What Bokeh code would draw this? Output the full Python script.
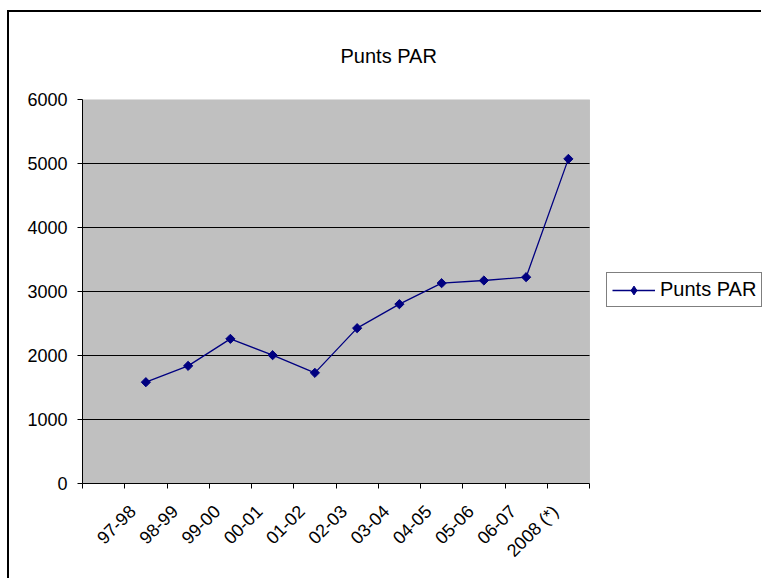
import numpy as np
from bokeh.plotting import figure
from bokeh.models import FixedTicker, Legend, LegendItem, Range1d, BoxAnnotation
from bokeh.embed import file_html
from bokeh.resources import INLINE

# ---- data ----
title_text = "Punts PAR"
series_name = "Punts PAR"
categories = ["", "97-98", "98-99", "99-00", "00-01", "01-02", "02-03",
              "03-04", "04-05", "05-06", "06-07", "2008 (*)"]
point_categories = categories[1:]
values = [1583, 1838, 2260, 2005, 1729, 2427, 2802, 3130, 3172, 3224, 5072]
y_ticks = [0, 1000, 2000, 3000, 4000, 5000, 6000]
grid_ticks = [1000, 2000, 3000, 4000, 5000]

FONT = "Liberation Sans"
NAVY = "#000080"

# ---- layout (pixels) ----
W, H = 754, 568
BL, BR, BT, BB = 73, 0, 87, 97
PLOT_PX = 507            # width of the grey plot area
frame_px = W - BL - BR

n = len(categories)
label_pos = [i + 0.19 for i in range(n)]   # Excel-like label anchor
boundaries = list(range(n + 1))
x_pos = [categories.index(c) + 0.5 for c in point_categories]
x_end = n * frame_px / PLOT_PX   # frame extends right to hold the legend

p = figure(width=W, height=H, output_backend="svg", toolbar_location=None,
           x_range=Range1d(0, x_end), y_range=Range1d(y_ticks[0], y_ticks[-1]),
           min_border_left=BL, min_border_right=BR, min_border_top=BT,
           min_border_bottom=BB,
           background_fill_color="white", border_fill_color="white",
           styles={"border-left": "2px solid black", "border-top": "2px solid black",
                   "margin-left": "7px", "margin-top": "10px"})
p.outline_line_color = None

xa = p.below[0]
ya = p.left[0]

# grey plot area with grey border
p.add_layout(BoxAnnotation(left=0, right=n, bottom=y_ticks[0], top=y_ticks[-1],
                           fill_color="#C0C0C0", fill_alpha=1,
                           line_color="#808080", line_width=1, level="image"))

# title
p.title.text = title_text
p.title.align = "left"
p.title.offset = 258
p.title.vertical_align = "top"
p.title.standoff = 62
p.title.text_font = FONT
p.title.text_font_size = "20px"
p.title.text_font_style = "normal"
p.title.text_color = "black"

# x axis: labels near category centres, tick marks at boundaries (minor ticks)
xa.bounds = (0, n)
xa.ticker = FixedTicker(ticks=label_pos, minor_ticks=boundaries)
xa.major_label_overrides = {c: lab for c, lab in zip(label_pos, categories)}
xa.major_label_orientation = np.pi / 4
xa.major_tick_in = 0
xa.major_tick_out = 0
xa.minor_tick_in = 0
xa.minor_tick_out = 5
xa.minor_tick_line_color = "black"
xa.axis_line_color = "black"
xa.major_label_text_font = FONT
xa.major_label_text_font_size = "18px"
xa.major_label_text_color = "black"
xa.major_label_standoff = 20

ya.ticker = FixedTicker(ticks=y_ticks)
ya.major_tick_in = 0
ya.major_tick_out = 5
ya.minor_tick_line_color = None
ya.axis_line_color = "black"
ya.major_tick_line_color = "black"
ya.major_label_text_font = FONT
ya.major_label_text_font_size = "18px"
ya.major_label_text_color = "black"
ya.major_label_standoff = 10

p.xgrid.visible = False
try:
    p.ygrid.ticker = FixedTicker(ticks=grid_ticks)
    p.ygrid.cross_bounds = (0, n)
    p.ygrid.grid_line_color = "black"
    p.ygrid.grid_line_width = 1
except AttributeError:
    p.ygrid.visible = False
    p.segment(x0=[0] * len(grid_ticks), x1=[n] * len(grid_ticks),
              y0=grid_ticks, y1=grid_ticks, line_color="black", line_width=1,
              level="underlay")

r_line = p.line(x_pos, values, line_color=NAVY, line_width=1.3)
r_pts = p.scatter(x_pos, values, marker="square", angle=np.pi / 4, size=6.5,
                  fill_color=NAVY, line_color=NAVY)
# diamond used only for the legend swatch
r_leg = p.scatter(x_pos, values, marker="diamond", size=9,
                  fill_color=NAVY, line_color=NAVY, visible=False)

legend = Legend(items=[LegendItem(label=series_name, renderers=[r_line, r_leg])],
                location=(524, 176), padding=5, margin=0,
                glyph_width=43, glyph_height=22, label_height=22,
                label_standoff=5, spacing=0,
                label_text_font=FONT, label_text_font_size="20px",
                label_text_color="black",
                border_line_color="black", border_line_width=1,
                background_fill_color="white", background_fill_alpha=1,
                inactive_fill_alpha=0)
p.add_layout(legend, "center")

open("out.html", "w").write(file_html(p, INLINE))
